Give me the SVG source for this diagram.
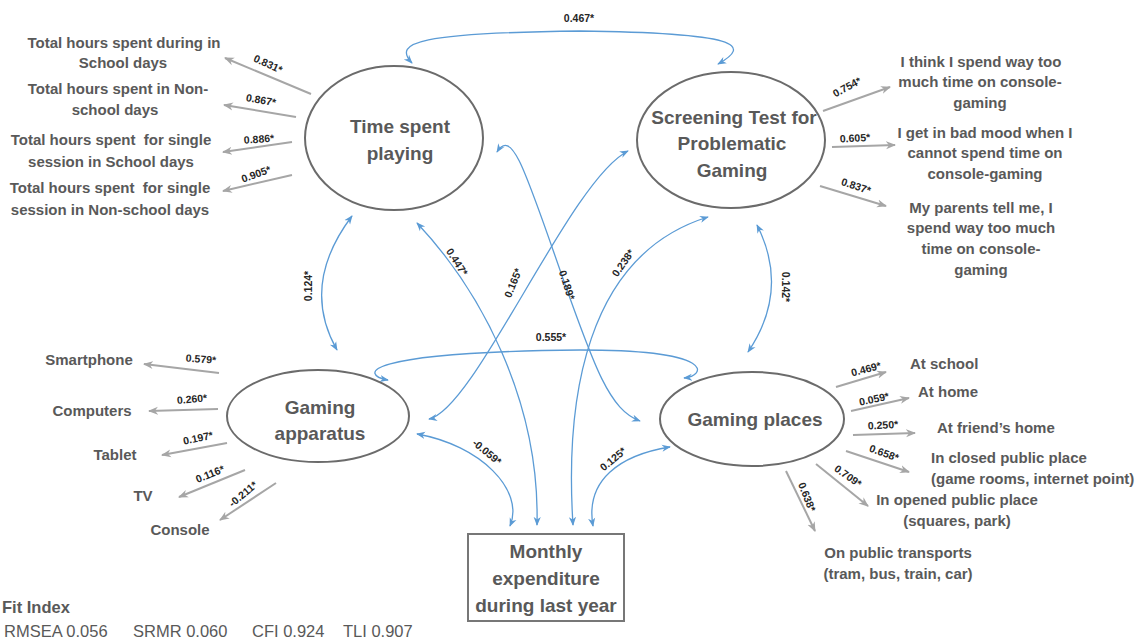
<svg xmlns="http://www.w3.org/2000/svg" width="1142" height="640" viewBox="0 0 1142 640">
<defs>
<style>
.t{font-family:"Liberation Sans",Arial,sans-serif;font-weight:bold;fill:#595959;font-size:19px;text-anchor:middle}
.i{font-family:"Liberation Sans",Arial,sans-serif;font-weight:bold;fill:#595959;font-size:15px;text-anchor:middle;white-space:pre}
.il{font-family:"Liberation Sans",Arial,sans-serif;font-weight:bold;fill:#595959;font-size:15px;text-anchor:start}
.n{font-family:"Liberation Sans",Arial,sans-serif;font-weight:bold;fill:#262626;font-size:10.5px;text-anchor:middle}
.f{font-family:"Liberation Sans",Arial,sans-serif;fill:#595959;font-size:16.5px}
.el{fill:#fff;stroke:#6b6b6b;stroke-width:2}
.g{fill:none;stroke:#a6a6a6;stroke-width:2;marker-end:url(#ag)}
.b{fill:none;stroke:#5b9bd5;stroke-width:1.3;marker-start:url(#ab);marker-end:url(#ab)}
</style>
<marker id="ag" viewBox="0 0 10 10" refX="9" refY="5" markerWidth="10" markerHeight="10" markerUnits="userSpaceOnUse" orient="auto-start-reverse"><path d="M0,1 L10,5 L0,9 L3,5 z" fill="#a6a6a6"/></marker>
<marker id="ab" viewBox="0 0 10 10" refX="9" refY="5" markerWidth="9" markerHeight="9" markerUnits="userSpaceOnUse" orient="auto-start-reverse"><path d="M0,1 L10,5 L0,9 L3,5 z" fill="#5b9bd5"/></marker>
</defs>
<rect width="1142" height="640" fill="#fff"/>

<g id="connectors">
<path class="g" d="M311,94 L225,58"/>
<path class="g" d="M296,117 L224,105"/>
<path class="g" d="M292,142 L223,152"/>
<path class="g" d="M292,175 L223,191"/>
<path class="g" d="M823,111 L890,87"/>
<path class="g" d="M832,147 L895,145"/>
<path class="g" d="M820,186 L886,206"/>
<path class="g" d="M219,373 L144,364"/>
<path class="g" d="M218,409 L149,411"/>
<path class="g" d="M227,443 L162,455"/>
<path class="g" d="M245,470 L179,497"/>
<path class="g" d="M276,483 L220,520"/>
<path class="g" d="M836,387 L886,372"/>
<path class="g" d="M851,411 L909,398"/>
<path class="g" d="M853,435 L915,433"/>
<path class="g" d="M846,451 L909,472"/>
<path class="g" d="M816,464 L868,506"/>
<path class="g" d="M786,471 L815,531"/>
<path class="b" d="M412,63 C392,42 420,33 580,31 C740,33 752,45 718,64"/>
<path class="b" d="M352,216 Q300,285 337,350"/>
<path class="b" d="M757,225 Q790,290 748,352"/>
<path class="b" d="M388,380 C360,375 358,352 580,350 C720,350 705,376 684,378"/>
<path class="b" d="M417,223 C480,290 540,400 537,525"/>
<path class="b" d="M429,419 C475,410 570,180 628,151"/>
<path class="b" d="M497,152 C512,128 525,170 560,270 S610,410 640,421"/>
<path class="b" d="M573,525 C565,400 585,255 708,217"/>
<path class="b" d="M417,434 C480,445 525,490 510,526"/>
<path class="b" d="M593,526 C585,480 620,455 670,447"/>
</g>

<g id="labels">
<text class="n" transform="translate(268,64) rotate(25)" dy=".35em">0.831*</text>
<text class="n" transform="translate(261,100) rotate(10)" dy=".35em">0.867*</text>
<text class="n" transform="translate(259,139) rotate(-4)" dy=".35em">0.886*</text>
<text class="n" transform="translate(256,174) rotate(-20)" dy=".35em">0.905*</text>
<text class="n" transform="translate(847,87) rotate(-28)" dy=".35em">0.754*</text>
<text class="n" transform="translate(855,138) rotate(-3)" dy=".35em">0.605*</text>
<text class="n" transform="translate(856,186) rotate(18)" dy=".35em">0.837*</text>
<text class="n" transform="translate(201,359) rotate(4)" dy=".35em">0.579*</text>
<text class="n" transform="translate(192,399) rotate(-5)" dy=".35em">0.260*</text>
<text class="n" transform="translate(198,438) rotate(-12)" dy=".35em">0.197*</text>
<text class="n" transform="translate(210,474) rotate(-22)" dy=".35em">0.116*</text>
<text class="n" transform="translate(243,494) rotate(-40)" dy=".35em">-0.211*</text>
<text class="n" transform="translate(866,369) rotate(-15)" dy=".35em">0.469*</text>
<text class="n" transform="translate(874,399) rotate(-12)" dy=".35em">0.059*</text>
<text class="n" transform="translate(883,425) rotate(-3)" dy=".35em">0.250*</text>
<text class="n" transform="translate(884,453) rotate(20)" dy=".35em">0.658*</text>
<text class="n" transform="translate(848,476) rotate(35)" dy=".35em">0.709*</text>
<text class="n" transform="translate(807,497) rotate(68)" dy=".35em">0.638*</text>
<text class="n" transform="translate(579,18)" dy=".35em">0.467*</text>
<text class="n" transform="translate(308,286) rotate(-90)" dy=".35em">0.124*</text>
<text class="n" transform="translate(786,287) rotate(90)" dy=".35em">0.142*</text>
<text class="n" transform="translate(551,337)" dy=".35em">0.555*</text>
<text class="n" transform="translate(457,262) rotate(57)" dy=".35em">0.447*</text>
<text class="n" transform="translate(513,283) rotate(-68)" dy=".35em">0.165*</text>
<text class="n" transform="translate(567,285) rotate(72)" dy=".35em">0.189*</text>
<text class="n" transform="translate(623,263) rotate(-55)" dy=".35em">0.238*</text>
<text class="n" transform="translate(487,452) rotate(40)" dy=".35em">-0.059*</text>
<text class="n" transform="translate(613,459) rotate(-40)" dy=".35em">0.125*</text>
</g>

<g id="time-spent-playing">
<ellipse class="el" cx="394" cy="138" rx="89" ry="72"/>
<text class="t" x="400" y="133">Time spent</text>
<text class="t" x="400" y="160">playing</text>
</g>
<g id="screening-test">
<ellipse class="el" cx="731" cy="140" rx="94" ry="68"/>
<text class="t" x="734" y="124">Screening Test for</text>
<text class="t" x="732" y="150">Problematic</text>
<text class="t" x="732" y="177">Gaming</text>
</g>
<g id="gaming-apparatus">
<ellipse class="el" cx="318" cy="416" rx="91" ry="46"/>
<text class="t" x="320" y="414">Gaming</text>
<text class="t" x="320" y="440">apparatus</text>
</g>
<g id="gaming-places">
<ellipse class="el" cx="752" cy="419" rx="92" ry="47"/>
<text class="t" x="755" y="426">Gaming places</text>
</g>
<g id="monthly-expenditure">
<rect x="468" y="534" width="156" height="87" fill="#fff" stroke="#777" stroke-width="2"/>
<text class="t" x="546" y="558">Monthly</text>
<text class="t" x="546" y="585">expenditure</text>
<text class="t" x="546" y="612">during last year</text>
</g>

<g id="tsp-indicators">
<text class="i" x="124" y="48">Total hours spent during in</text>
<text class="i" x="123" y="68">School days</text>
<text class="i" x="118" y="94">Total hours spent in Non-</text>
<text class="i" x="115" y="115">school days</text>
<text class="i" x="111" y="145" xml:space="preserve">Total hours spent  for single</text>
<text class="i" x="111" y="167">session in School days</text>
<text class="i" x="110" y="193" xml:space="preserve">Total hours spent  for single</text>
<text class="i" x="110" y="215">session in Non-school days</text>
</g>
<g id="stpg-indicators">
<text class="i" x="981" y="67">I think I spend way too</text>
<text class="i" x="980" y="87">much time on console-</text>
<text class="i" x="980" y="108">gaming</text>
<text class="i" x="985" y="138">I get in bad mood when I</text>
<text class="i" x="985" y="158">cannot spend time on</text>
<text class="i" x="985" y="179">console-gaming</text>
<text class="i" x="981" y="213">My parents tell me, I</text>
<text class="i" x="981" y="233">spend way too much</text>
<text class="i" x="981" y="254">time on console-</text>
<text class="i" x="981" y="275">gaming</text>
</g>
<g id="ga-indicators">
<text class="i" x="89" y="365">Smartphone</text>
<text class="i" x="92" y="416">Computers</text>
<text class="i" x="115" y="460">Tablet</text>
<text class="i" x="143" y="501">TV</text>
<text class="i" x="180" y="535">Console</text>
</g>
<g id="gp-indicators">
<text class="il" x="910" y="369">At school</text>
<text class="il" x="918" y="397">At home</text>
<text class="il" x="937" y="433">At friend’s home</text>
<text class="il" x="931" y="463">In closed public place</text>
<text class="il" x="931" y="484">(game rooms, internet point)</text>
<text class="i" x="957" y="505">In opened public place</text>
<text class="i" x="957" y="526">(squares, park)</text>
<text class="i" x="898" y="558">On public transports</text>
<text class="i" x="898" y="579">(tram, bus, train, car)</text>
</g>

<g id="fit-index">
<text class="f" x="2" y="613" font-weight="bold">Fit Index</text>
<text class="f" x="4" y="637">RMSEA 0.056</text>
<text class="f" x="133" y="637">SRMR 0.060</text>
<text class="f" x="252" y="637">CFI 0.924</text>
<text class="f" x="343" y="637">TLI 0.907</text>
</g>
</svg>
